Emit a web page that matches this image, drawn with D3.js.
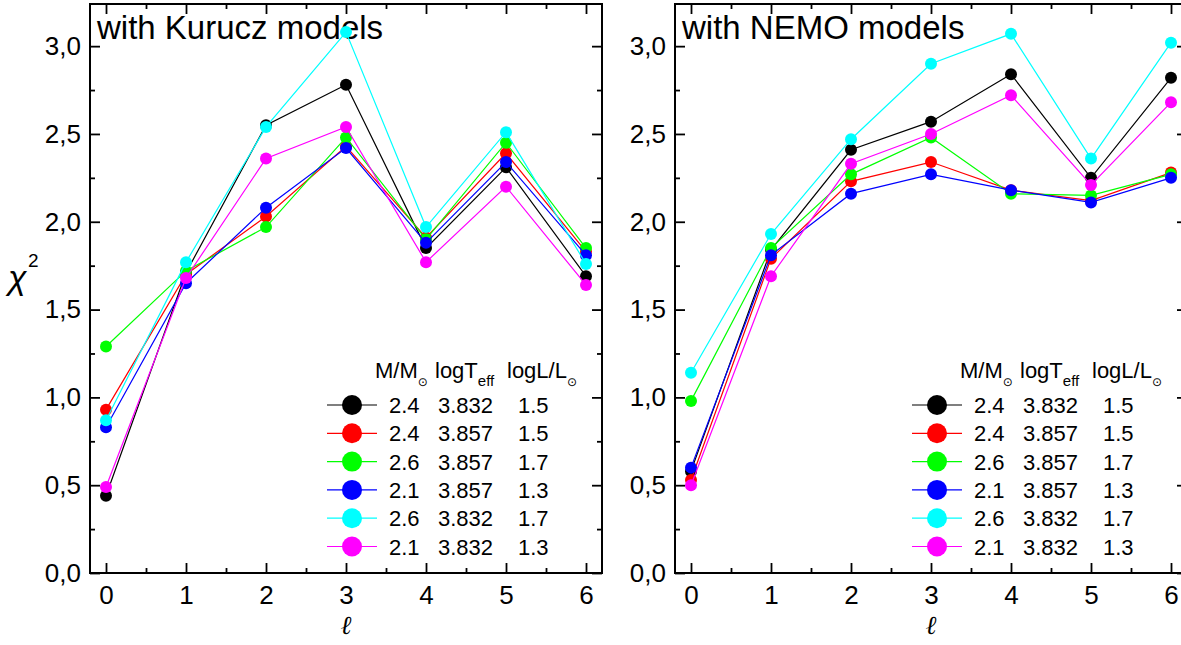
<!DOCTYPE html>
<html>
<head>
<meta charset="utf-8">
<script src="https://cdn.jsdelivr.net/npm/d3@7"></script>
<style>
  body { margin: 0; background: #fff; }
  text { font-family: "Liberation Sans", Arial, sans-serif; fill: #000; }
</style>
</head>
<body>
<div id="chart"></div>
<script>
// chi^2 vs degree l, two panels (Kurucz / NEMO atmospheres)
const ells = [0, 1, 2, 3, 4, 5, 6];
const seriesColors = ["#000000", "#ff0000", "#00ff00", "#0000ff", "#00ffff", "#ff00ff"];
const legendMass = ["2.4", "2.4", "2.6", "2.1", "2.6", "2.1"];
const legendTeff = ["3.832", "3.857", "3.857", "3.857", "3.832", "3.832"];
const legendLum = ["1.5", "1.5", "1.7", "1.3", "1.7", "1.3"];
const yTicks = [0, 0.5, 1, 1.5, 2, 2.5, 3];
const yMinor = [0.25, 0.75, 1.25, 1.75, 2.25, 2.75];
const xMinor = [0.5, 1.5, 2.5, 3.5, 4.5, 5.5];

// rows follow legend order: black, red, green, blue, cyan, magenta
const kuruczChi2 = [
  [0.44, 1.71, 2.55, 2.78, 1.85, 2.31, 1.69],
  [0.93, 1.70, 2.03, 2.43, 1.91, 2.39, 1.83],
  [1.29, 1.72, 1.97, 2.48, 1.90, 2.45, 1.85],
  [0.83, 1.65, 2.08, 2.42, 1.88, 2.34, 1.81],
  [0.87, 1.77, 2.54, 3.08, 1.97, 2.51, 1.76],
  [0.49, 1.68, 2.36, 2.54, 1.77, 2.20, 1.64]
];
const nemoChi2 = [
  [0.58, 1.84, 2.41, 2.57, 2.84, 2.25, 2.82],
  [0.53, 1.79, 2.23, 2.34, 2.18, 2.12, 2.28],
  [0.98, 1.85, 2.27, 2.48, 2.16, 2.15, 2.27],
  [0.60, 1.81, 2.16, 2.27, 2.18, 2.11, 2.25],
  [1.14, 1.93, 2.47, 2.90, 3.07, 2.36, 3.02],
  [0.50, 1.69, 2.33, 2.50, 2.72, 2.21, 2.68]
];

const W = 1181, H = 645;
const pw = 512, plotTop = 4, ph = 569;

const svg = d3.select("#chart").append("svg")
  .attr("width", W).attr("height", H);

const x = d3.scaleLinear().domain([-0.2, 6.2]).range([0, pw]);
const y = d3.scaleLinear().domain([0, 3.24]).range([ph, 0]);
const fmt = d => d3.format(".1f")(d).replace(".", ",");

const panels = [
  {x0: 90, data: kuruczChi2, title: "with Kurucz models"},
  {x0: 675, data: nemoChi2, title: "with NEMO models"}
];

panels.forEach(function(p) {
  const g = svg.append("g").attr("transform", "translate(" + p.x0 + "," + plotTop + ")");

  function styleAxis(sel) {
    sel.select(".domain").remove();
    sel.selectAll("line").attr("stroke", "#000").attr("stroke-width", 1.8);
    sel.selectAll("text").attr("font-size", 26).attr("font-family", "Liberation Sans, Arial, sans-serif");
  }

  // major axes with labels
  g.append("g").attr("transform", "translate(0," + ph + ")")
    .call(d3.axisBottom(x).tickValues(ells).tickSizeInner(-10).tickSizeOuter(0)
      .tickPadding(13).tickFormat(d3.format("d")))
    .call(styleAxis);
  g.append("g")
    .call(d3.axisLeft(y).tickValues(yTicks).tickSizeInner(-10).tickSizeOuter(0)
      .tickPadding(9).tickFormat(fmt))
    .call(styleAxis);
  // mirror ticks
  g.append("g")
    .call(d3.axisTop(x).tickValues(ells).tickSizeInner(-10).tickSizeOuter(0).tickFormat(""))
    .call(styleAxis);
  g.append("g").attr("transform", "translate(" + pw + ",0)")
    .call(d3.axisRight(y).tickValues(yTicks).tickSizeInner(-10).tickSizeOuter(0).tickFormat(""))
    .call(styleAxis);
  // minor ticks
  g.append("g").attr("transform", "translate(0," + ph + ")")
    .call(d3.axisBottom(x).tickValues(xMinor).tickSizeInner(-5).tickSizeOuter(0).tickFormat(""))
    .call(styleAxis);
  g.append("g")
    .call(d3.axisTop(x).tickValues(xMinor).tickSizeInner(-5).tickSizeOuter(0).tickFormat(""))
    .call(styleAxis);
  g.append("g")
    .call(d3.axisLeft(y).tickValues(yMinor).tickSizeInner(-5).tickSizeOuter(0).tickFormat(""))
    .call(styleAxis);
  g.append("g").attr("transform", "translate(" + pw + ",0)")
    .call(d3.axisRight(y).tickValues(yMinor).tickSizeInner(-5).tickSizeOuter(0).tickFormat(""))
    .call(styleAxis);

  // frame
  g.append("rect").attr("width", pw).attr("height", ph)
    .attr("fill", "none").attr("stroke", "#000").attr("stroke-width", 2);

  // panel title
  g.append("text").attr("x", 7).attr("y", 35)
    .attr("font-size", 33).text(p.title);

  // x label
  g.append("text").attr("x", x(3)).attr("y", 630)
    .attr("text-anchor", "middle")
    .style("font-family", "Liberation Serif, DejaVu Serif, serif").style("font-style", "italic")
    .attr("font-size", 26).text("ℓ");

  // series
  const line = d3.line().x((d, i) => x(ells[i])).y(d => y(d));
  p.data.forEach(function(vals, s) {
    g.append("path").datum(vals)
      .attr("d", line).attr("fill", "none")
      .attr("stroke", seriesColors[s]).attr("stroke-width", 1.2);
    g.selectAll(null).data(vals).enter().append("circle")
      .attr("cx", (d, i) => x(ells[i])).attr("cy", d => y(d))
      .attr("r", 6).attr("fill", seriesColors[s]);
  });

  // legend
  const lg = g.append("g");
  const hy = 374;
  const head = lg.append("text").attr("y", hy).attr("font-size", 22);
  head.append("tspan").attr("x", 285).text("M/M");
  head.append("tspan").attr("dy", 8).attr("font-size", 12).style("font-family", "DejaVu Sans, sans-serif").text("⊙");
  const head2 = lg.append("text").attr("y", hy).attr("font-size", 22);
  head2.append("tspan").attr("x", 345).text("logT");
  head2.append("tspan").attr("dy", 8).attr("font-size", 15).text("eff");
  const head3 = lg.append("text").attr("y", hy).attr("font-size", 22);
  head3.append("tspan").attr("x", 417).text("logL/L");
  head3.append("tspan").attr("dy", 8).attr("font-size", 12).style("font-family", "DejaVu Sans, sans-serif").text("⊙");

  seriesColors.forEach(function(c, s) {
    const ry = 401 + s * 28.3;
    lg.append("line").attr("x1", 237).attr("x2", 287).attr("y1", ry).attr("y2", ry)
      .attr("stroke", c).attr("stroke-width", 1.2);
    lg.append("circle").attr("cx", 262).attr("cy", ry).attr("r", 10).attr("fill", c);
    lg.append("text").attr("x", 299).attr("y", ry + 8).attr("font-size", 22).text(legendMass[s]);
    lg.append("text").attr("x", 348).attr("y", ry + 8).attr("font-size", 22).text(legendTeff[s]);
    lg.append("text").attr("x", 428).attr("y", ry + 8).attr("font-size", 22).text(legendLum[s]);
  });
});

// y label chi^2
svg.append("text").attr("x", 8).attr("y", 289).attr("font-size", 34)
  .style("font-style", "italic").text("χ");
svg.append("text").attr("x", 28).attr("y", 267).attr("font-size", 19).text("2");
</script>
</body>
</html>
